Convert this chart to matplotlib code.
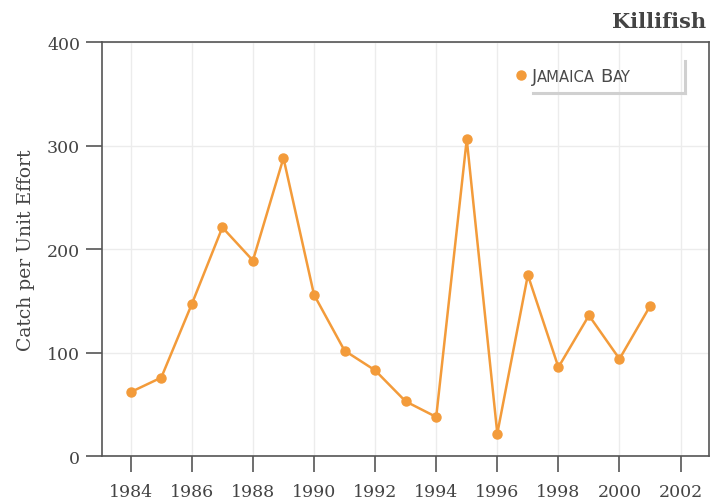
import matplotlib
matplotlib.use("Agg")
import matplotlib.pyplot as plt
from matplotlib.lines import Line2D

years = [1984, 1985, 1986, 1987, 1988, 1989, 1990, 1991, 1992, 1993,
         1994, 1995, 1996, 1997, 1998, 1999, 2000, 2001]
cpue = [62, 76, 147, 221, 189, 288, 156, 102, 83, 53,
        38, 306, 22, 175, 86, 136, 94, 145]
x_ticks = [1984, 1986, 1988, 1990, 1992, 1994, 1996, 1998, 2000, 2002]
y_ticks = [0, 100, 200, 300, 400]
series_name = "Jamaica Bay"
title = "Killifish"
ylabel = "Catch per Unit Effort"

orange = "#F39B3A"
dark = "#444444"
serif = ["DejaVu Serif"]

fig = plt.figure(figsize=(7.21, 5.02), dpi=100)
W, H = 721, 502
ax = fig.add_axes([101.7 / W, 1 - 457.3 / H, (709 - 101.7) / W, (457.3 - 43) / H])

ax.plot(years, cpue, color=orange, lw=1.8, marker="o", ms=6.5, zorder=3)

ax.set_xlim(1983.05, 2002.93)
ax.set_ylim(0, 400)
ax.set_xticks(x_ticks)
ax.set_yticks(y_ticks)
ax.grid(True, color="#ececec", lw=1.0, zorder=0)
ax.set_axisbelow(True)
for s in ax.spines.values():
    s.set_color("#555555")
    s.set_linewidth(1.2)
ax.tick_params(axis="both", direction="out", length=11.5, width=1.2,
               color="#555555", labelcolor=dark, labelsize=12.5)
ax.tick_params(axis="x", pad=8)
ax.tick_params(axis="y", pad=4)
for lab in ax.get_xticklabels() + ax.get_yticklabels():
    lab.set_family(serif)

ax.set_ylabel(ylabel, family=serif, fontsize=13.5, color=dark, labelpad=9)
fig.text(706 / W, 1 - 22 / H, title, family=serif, fontsize=15, fontweight="bold",
         color=dark, ha="right", va="center")

# legend with shadow
shadow_col = "#d0d0d0"
fig.add_artist(Line2D([533 / W, 685 / W], [1 - 93.5 / H, 1 - 93.5 / H],
                      color=shadow_col, lw=2.2, transform=fig.transFigure))
fig.add_artist(Line2D([685 / W, 685 / W], [1 - 93.5 / H, 1 - 62 / H],
                      color=shadow_col, lw=2.2, transform=fig.transFigure))
fig.add_artist(Line2D([521 / W], [1 - 76 / H], marker="o", ms=6.5, color=orange,
                      lw=0, transform=fig.transFigure))

# fake small caps text
sans = ["DejaVu Sans"]
big, small = 13.0, 10.6
pieces = []
orig = series_name.split()
for wi, w in enumerate(orig):
    pieces.append((w[0], big))
    pieces.append((w[1:].upper(), small))
    if wi < len(orig) - 1:
        pieces.append((" ", big))
renderer = fig.canvas.get_renderer()
xpix, ypix = 532.0, 502 - 82.0
for txt, sz in pieces:
    t = fig.text(xpix / W, ypix / H, txt, fontsize=sz, family=sans, color="#4a4a4a",
                 ha="left", va="baseline")
    if txt == " ":
        xpix += sz * 0.3 * 100 / 72
    else:
        xpix += t.get_window_extent(renderer).width

fig.savefig("out.png", dpi=100)
